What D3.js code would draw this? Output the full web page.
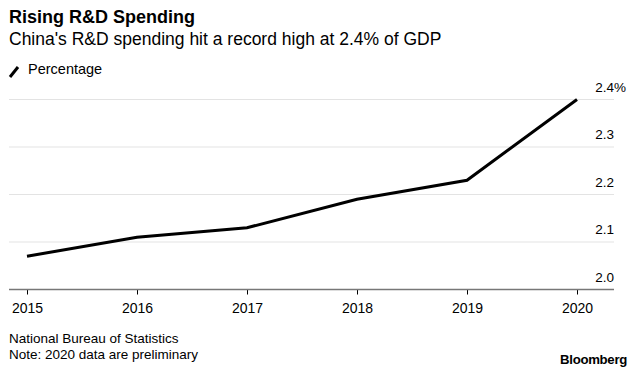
<!DOCTYPE html>
<html><head><meta charset="utf-8">
<script src="https://cdn.jsdelivr.net/npm/d3@7"></script>
<style>
body{margin:0;background:#fff;}
text{font-family:"Liberation Sans",Arial,Helvetica,sans-serif;fill:#000;}
</style></head>
<body>
<svg id="c" width="635" height="375"></svg>
<script>
const years = [2015, 2016, 2017, 2018, 2019, 2020];
const values = [2.07, 2.11, 2.13, 2.19, 2.23, 2.40];
const yTicks = [2.0, 2.1, 2.2, 2.3, 2.4];
const title = "Rising R&D Spending";
const subtitle = "China's R&D spending hit a record high at 2.4% of GDP";
const legendLabel = "Percentage";
const footnotes = ["National Bureau of Statistics", "Note: 2020 data are preliminary"];

const svg = d3.select("#c");
const plotL = 9, plotR = 614, plotT = 99.5, plotB = 289.5;
const x = d3.scalePoint().domain(years).range([27, 577]);
const y = d3.scaleLinear().domain([2.0, 2.4]).range([plotB, plotT]);

svg.append("text").attr("x", 9).attr("y", 23).attr("font-size", 18).attr("font-weight", "bold").text(title);
svg.append("text").attr("x", 9).attr("y", 45).attr("font-size", 17.5).text(subtitle);

// legend
svg.append("line").attr("x1", 10).attr("y1", 77).attr("x2", 18).attr("y2", 67).attr("stroke", "#000").attr("stroke-width", 3);
svg.append("text").attr("x", 28).attr("y", 74).attr("font-size", 14.5).text(legendLabel);

// gridlines
svg.append("g").selectAll("line").data(yTicks.filter(d => d > 2.0)).join("line")
  .attr("x1", plotL).attr("x2", plotR).attr("y1", d => y(d)).attr("y2", d => y(d))
  .attr("stroke", "#e3e3e3").attr("stroke-width", 1);

// y labels
svg.append("g").selectAll("text").data(yTicks).join("text")
  .attr("x", plotR).attr("y", d => y(d) - 8).attr("text-anchor", "end").attr("font-size", 13.5)
  .text(d => d.toFixed(1));
svg.append("text").attr("x", plotR).attr("y", y(2.4) - 8).attr("font-size", 13.5).text("%");

// baseline axis
const xAxis = d3.axisBottom(x).tickSize(5).tickPadding(9).tickFormat(d3.format("d"));
const ax = svg.append("g").attr("transform", `translate(0,${plotB})`).call(xAxis);
ax.select(".domain").remove();
ax.selectAll(".tick line").attr("stroke", "#000").attr("stroke-width", 1);
ax.selectAll(".tick text").attr("font-size", 14).attr("font-family", '"Liberation Sans",Arial,sans-serif').attr("fill", "#000");
svg.append("line").attr("x1", plotL).attr("x2", plotR).attr("y1", plotB).attr("y2", plotB).attr("stroke", "#777").attr("stroke-width", 1.5);

// line
const line = d3.line().x((d, i) => x(years[i])).y(d => y(d));
svg.append("path").datum(values).attr("d", line).attr("fill", "none").attr("stroke", "#000").attr("stroke-width", 3).attr("stroke-linejoin", "miter");

// footer
svg.append("g").selectAll("text").data(footnotes).join("text")
  .attr("x", 9).attr("y", (d, i) => 343 + i * 16).attr("font-size", 13.5).text(d => d);
svg.append("text").attr("x", 627).attr("y", 364).attr("text-anchor", "end").attr("font-size", 13.2).attr("font-weight", "bold").attr("letter-spacing", -0.3).text("Bloomberg");
</script>
</body></html>
